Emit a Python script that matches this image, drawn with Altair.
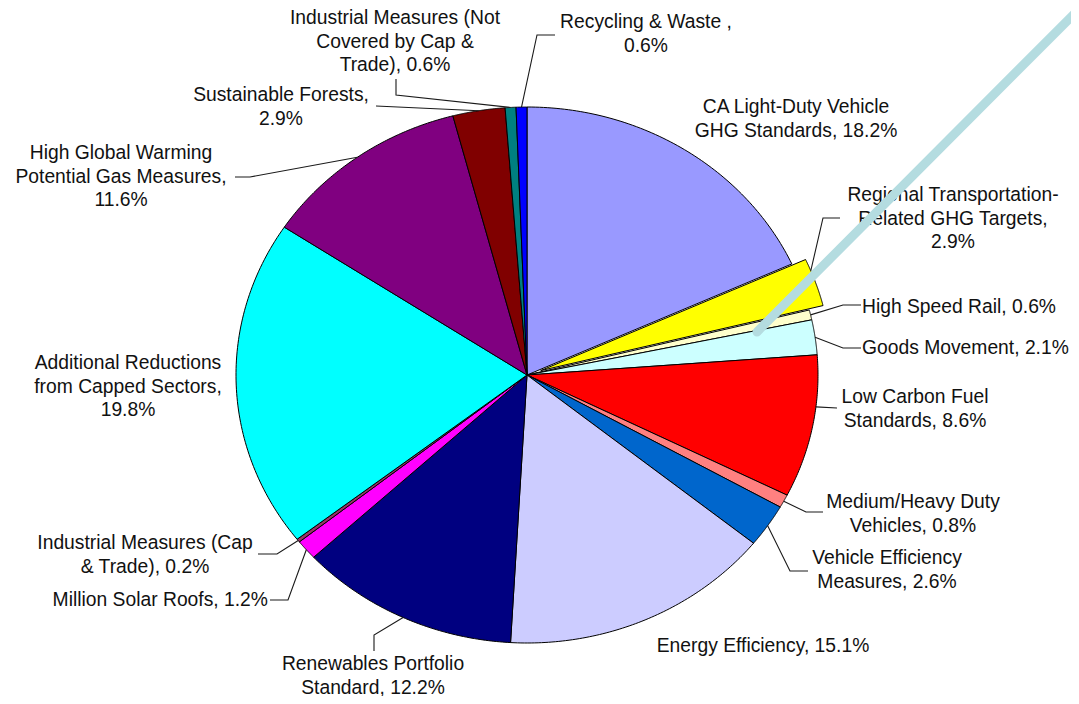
import math
import numpy as np
import pandas as pd
import altair as alt

# ---------------- data ----------------
categories = [
    "CA Light-Duty Vehicle GHG Standards",
    "Regional Transportation-Related GHG Targets",
    "High Speed Rail",
    "Goods Movement",
    "Low Carbon Fuel Standards",
    "Medium/Heavy Duty Vehicles",
    "Vehicle Efficiency Measures",
    "Energy Efficiency",
    "Renewables Portfolio Standard",
    "Million Solar Roofs",
    "Industrial Measures (Cap & Trade)",
    "Additional Reductions from Capped Sectors",
    "High Global Warming Potential Gas Measures",
    "Sustainable Forests",
    "Industrial Measures (Not Covered by Cap & Trade)",
    "Recycling & Waste",
]
values = [18.2, 2.9, 0.6, 2.1, 8.6, 0.8, 2.6, 15.1, 12.2, 1.2, 0.2, 19.8, 11.6, 2.9, 0.6, 0.6]
label_heads = [
    "CA Light-Duty Vehicle\nGHG Standards,",
    "Regional Transportation-\nRelated GHG Targets,",
    "High Speed Rail,",
    "Goods Movement,",
    "Low Carbon Fuel\nStandards,",
    "Medium/Heavy Duty\nVehicles,",
    "Vehicle Efficiency\nMeasures,",
    "Energy Efficiency,",
    "Renewables Portfolio\nStandard,",
    "Million Solar Roofs,",
    "Industrial Measures (Cap\n& Trade),",
    "Additional Reductions\nfrom Capped Sectors,",
    "High Global Warming\nPotential Gas Measures,",
    "Sustainable Forests,",
    "Industrial Measures (Not\nCovered by Cap &\nTrade),",
    "Recycling & Waste ,",
]
label_seps = [" ", "\n", " ", " ", " ", " ", " ", " ", " ", " ", " ", "\n", "\n", "\n", " ", "\n"]

# ---------------- styles / layout ----------------
colors = ["#9999FF", "#FFFF00", "#FFFFCC", "#CCFFFF", "#FF0000", "#FF8080", "#0066CC", "#CCCCFF",
          "#000080", "#FF00FF", "#993366", "#00FFFF", "#800080", "#800000", "#008080", "#0000FF"]
explode = [0, 0.05] + [0] * 14

W, H = 1063, 688
CXP, CYP = 527, 375      # pie centre in page pixels
RXP, RYP = 291, 268      # pie radii in page pixels
xdom = [-(CXP - 8) / RXP, (W - (CXP - 8)) / RXP]
ydom = [-(H - (CYP - 8)) / RYP, (CYP - 8) / RYP]
xs = alt.Scale(domain=xdom, nice=False, zero=False)
ys = alt.Scale(domain=ydom, nice=False, zero=False)


def u(px):
    return (px - CXP) / RXP


def v(py):
    return (CYP - py) / RYP


# label anchors (page pixels, centre of first line) and alignment
label_layout = [
    (796, 107, "center"), (953, 195, "center"), (862, 307, "left"), (862, 348, "left"),
    (915, 397, "center"), (913, 502, "center"), (887, 558, "center"), (763, 646, "center"),
    (373, 664, "center"), (268, 600, "right"), (145, 543, "center"), (128, 363, "center"),
    (121, 153, "center"), (281, 95, "center"), (395, 18, "center"), (646, 22, "center"),
]
# leader lines: category index -> (anchor fraction inside slice, elbow/end points)
leader_layout = {
    15: (0.5, [(537, 35), (555, 35)]),
    14: (0.5, [(396, 95), (396, 79)]),
    13: (0.5, [(376, 106)]),
    12: (0.5, [(250, 177), (235, 177)]),
    10: (0.5, [(277, 554), (258, 554)]),
    9: (0.5, [(288, 600), (270, 600)]),
    8: (0.5, [(374, 635), (374, 651)]),
    6: (0.5, [(790, 571), (808, 571)]),
    5: (0.5, [(806, 512), (823, 512)]),
    4: (0.36, [(837, 408)]),
    3: (0.5, [(843, 348), (861, 348)]),
    2: (0.5, [(843, 305), (861, 305)]),
    1: (0.25, [(823, 218), (840, 218)]),
}
pointer_layout = [(757, 332), (1076, 12)]

NSTEP = 80

# ---------------- slices ----------------
slices = pd.DataFrame({
    "name": categories,
    "value": values,
    "idx": list(range(len(categories))),
    "explode": explode,
    "steps": [list(range(NSTEP + 3)) for _ in categories],
})

pie = (
    alt.Chart(slices)
    .transform_joinaggregate(total="sum(value)")
    .transform_window(cum="sum(value)", sort=[alt.SortField("idx")], frame=[None, 0])
    .transform_calculate(
        a0="2*PI*(datum.cum - datum.value)/datum.total",
        a1="2*PI*datum.cum/datum.total",
    )
    .transform_calculate(mid="(datum.a0 + datum.a1)/2")
    .transform_flatten(["steps"], as_=["step"])
    .transform_calculate(
        t=f"clamp((datum.step - 1)/{NSTEP}, 0, 1)",
        r=f"(datum.step == 0 || datum.step == {NSTEP + 2}) ? 0 : 1",
    )
    .transform_calculate(ang="datum.a0 + (datum.a1 - datum.a0)*datum.t")
    .transform_calculate(
        px="datum.explode*sin(datum.mid) + datum.r*sin(datum.ang)",
        py="datum.explode*cos(datum.mid) + datum.r*cos(datum.ang)",
    )
    .mark_line(filled=True, stroke="black", strokeWidth=1, strokeJoin="round")
    .encode(
        x=alt.X("px:Q", scale=xs, axis=None),
        y=alt.Y("py:Q", scale=ys, axis=None),
        color=alt.Color("name:N", scale=alt.Scale(domain=categories, range=colors), legend=None),
        order=alt.Order("step:Q"),
    )
)

# ---------------- leaders ----------------
vals = np.array(values)
cum = np.cumsum(vals)
a0s = 2 * math.pi * (cum - vals) / vals.sum()
a1s = 2 * math.pi * cum / vals.sum()
rows = []
for i, (frac, pts) in leader_layout.items():
    mid = (a0s[i] + a1s[i]) / 2
    a = a0s[i] + frac * (a1s[i] - a0s[i])
    sx = explode[i] * math.sin(mid) + math.sin(a)
    sy = explode[i] * math.cos(mid) + math.cos(a)
    rows.append({"lid": i, "seq": 0, "px": sx, "py": sy})
    for k, (qx, qy) in enumerate(pts):
        rows.append({"lid": i, "seq": k + 1, "px": u(qx), "py": v(qy)})
leaders_df = pd.DataFrame(rows)

leaders = alt.Chart(leaders_df).mark_line(color="#1a1a1a", strokeWidth=1.1).encode(
    x=alt.X("px:Q", scale=xs, axis=None),
    y=alt.Y("py:Q", scale=ys, axis=None),
    detail="lid:N",
    order=alt.Order("seq:Q"),
)

# ---------------- labels ----------------
labels_df = pd.DataFrame({
    "text": [h + s + f"{val:.1f}%" for h, s, val in zip(label_heads, label_seps, values)],
    "px": [u(p[0]) for p in label_layout],
    "py": [v(p[1]) for p in label_layout],
    "align": [p[2] for p in label_layout],
})

label_layers = []
for al in ["left", "center", "right"]:
    label_layers.append(
        alt.Chart(labels_df)
        .transform_filter(alt.datum.align == al)
        .mark_text(align=al, baseline="middle", lineBreak="\n", lineHeight=23.5,
                   font="Liberation Sans", fontSize=19.3, color="#111111")
        .encode(
            x=alt.X("px:Q", scale=xs, axis=None),
            y=alt.Y("py:Q", scale=ys, axis=None),
            text="text:N",
        )
    )

# ---------------- pointer ----------------
pointer_df = pd.DataFrame({
    "seq": [0, 1],
    "px": [u(p[0]) for p in pointer_layout],
    "py": [v(p[1]) for p in pointer_layout],
})
pointer = alt.Chart(pointer_df).mark_line(color="#B4DCE0", strokeWidth=9, strokeCap="round").encode(
    x=alt.X("px:Q", scale=xs, axis=None),
    y=alt.Y("py:Q", scale=ys, axis=None),
    order=alt.Order("seq:Q"),
)

chart = (
    alt.layer(pie, leaders, *label_layers, pointer)
    .properties(width=W, height=H, padding=0, autosize="none", background="white")
    .configure_view(stroke=None)
)

chart.save("out.html", embed_options={"renderer": "svg", "actions": False})
